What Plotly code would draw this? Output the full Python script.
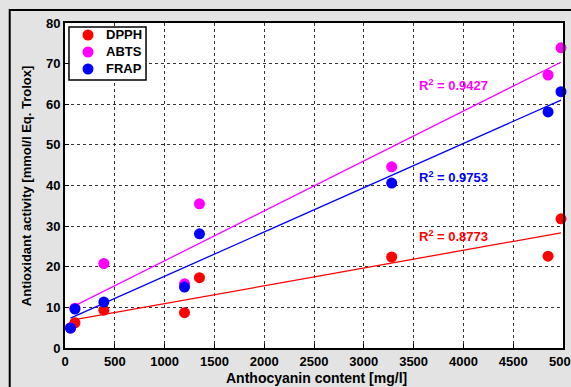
import numpy as np
import plotly.graph_objects as go

anthocyanin = [55, 100, 390, 1200, 1350, 3280, 4850, 4980]
dpph = [5.0, 6.2, 9.3, 8.7, 17.3, 22.4, 22.6, 31.8]
abts = [4.9, 9.8, 20.8, 15.8, 35.5, 44.6, 67.2, 73.9]
frap = [4.9, 9.6, 11.3, 15.0, 28.1, 40.6, 58.1, 63.1]
r2_labels = ["R<sup>2</sup> = 0.8773", "R<sup>2</sup> = 0.9427", "R<sup>2</sup> = 0.9753"]
series_names = ["DPPH", "ABTS", "FRAP"]
colors = ["#ff0000", "#ff00ff", "#0000ff"]
x_ticks = list(range(0, 5001, 500))
y_ticks = list(range(0, 81, 10))

font = "Liberation Sans, Arial, sans-serif"
fig = go.Figure()

xs = np.array(anthocyanin, dtype=float)
for name, ys, col in zip(series_names, [dpph, abts, frap], colors):
    m, b = np.polyfit(xs, np.array(ys), 1)
    xl = np.array([xs.min(), xs.max()])
    fig.add_trace(go.Scatter(x=xl, y=m * xl + b, mode="lines",
                             line=dict(color=col, width=1.3), showlegend=False,
                             hoverinfo="skip"))

for name, ys, col in zip(series_names, [dpph, abts, frap], colors):
    fig.add_trace(go.Scatter(x=anthocyanin, y=ys, mode="markers", name=name,
                             marker=dict(color=col, size=11), cliponaxis=False,
                             showlegend=False))

ann_pos = [(3530, 27.5), (3530, 64.8), (3530, 42.2)]
for lab, col, (ax, ay) in zip(r2_labels, colors, ann_pos):
    fig.add_annotation(x=ax, y=ay, text=lab, showarrow=False,
                       xanchor="left", yanchor="middle",
                       font=dict(color=col, size=13, family=font, weight="bold"))

axis_common = dict(showline=True, linewidth=2, linecolor="black", mirror=True,
                   showgrid=True, gridcolor="#333", griddash="dot", gridwidth=1,
                   ticks="inside", ticklen=4, tickcolor="black", zeroline=False,
                   automargin=False,
                   tickfont=dict(size=13, family=font, color="black", weight="bold"))

fig.update_xaxes(range=[0, 5000], tickvals=x_ticks[:-1], **axis_common)
fig.update_yaxes(range=[0, 80], tickvals=y_ticks, **axis_common)

# last x tick label (cut by the figure edge as in the original)
fig.add_annotation(x=x_ticks[-1], xref="x", yref="paper", y=-0.012, yanchor="top",
                   text=str(x_ticks[-1]), showarrow=False,
                   font=dict(size=13, family=font, color="black", weight="bold"))

fig.add_annotation(xref="paper", yref="paper", x=0.505, y=-0.092, yanchor="middle",
                   text="Anthocyanin content [mg/l]", showarrow=False,
                   font=dict(size=14, family=font, color="black", weight="bold"))
fig.add_annotation(xref="paper", yref="paper", x=-0.077, y=0.5, xanchor="center", yanchor="middle",
                   textangle=-90, text="Antioxidant activity [mmol/l Eq. Trolox]", showarrow=False,
                   font=dict(size=13, family=font, color="black", weight="bold"))

fig.add_shape(type="rect", xref="paper", yref="paper", x0=-0.111, x1=1.2, y0=-0.3, y1=1.04,
              line=dict(color="black", width=2), fillcolor="rgba(0,0,0,0)", layer="below")

# legend box
fig.add_shape(type="rect", xref="paper", yref="paper", x0=0.008, x1=0.1627, y0=0.8246, y1=0.9877,
              line=dict(color="black", width=1.5), fillcolor="white", layer="above")
leg_y = [0.9631, 0.9108, 0.8585]
for name, col, ly in zip(series_names, colors, leg_y):
    fig.add_shape(type="circle", xref="paper", yref="paper", xsizemode="pixel", ysizemode="pixel",
                  xanchor=0.0462, yanchor=ly, x0=-5.5, x1=5.5, y0=-5.5, y1=5.5,
                  line=dict(width=0), fillcolor=col, layer="above")
    fig.add_annotation(xref="paper", yref="paper", x=0.078, y=ly, xanchor="left", yanchor="middle",
                       text=name, showarrow=False,
                       font=dict(size=13, family=font, color="black", weight="bold"))

fig.update_layout(
    width=571, height=387,
    margin=dict(l=65, r=8, t=23, b=39, autoexpand=False),
    paper_bgcolor="#e3e3e3", plot_bgcolor="white",
    font=dict(family=font, color="black"),
    showlegend=False,
)

fig.write_html("out.html", config={"displayModeBar": False},
               post_script="document.body.style.margin='0';document.body.style.overflow='hidden';")
